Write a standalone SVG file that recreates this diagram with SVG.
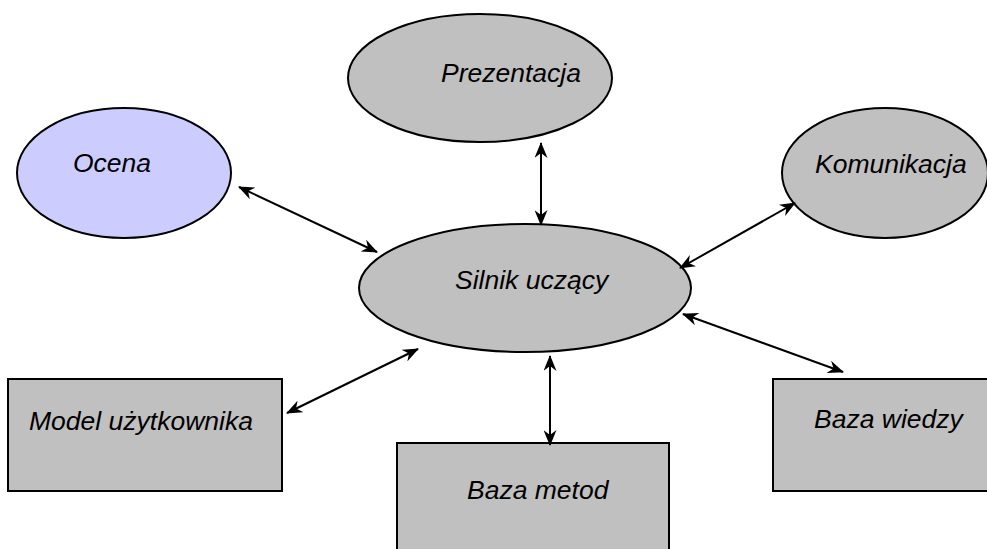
<svg xmlns="http://www.w3.org/2000/svg" width="987" height="549" viewBox="0 0 987 549">
<style>
.n{fill:#C0C0C0;stroke:#000;stroke-width:2}
.o{fill:#CCCCFF;stroke:#000;stroke-width:2}
.t{font-family:"Liberation Sans",Arial,sans-serif;font-style:italic;font-size:26.5px;fill:#000}
.c{stroke:#000;stroke-width:2;fill:none;marker-start:url(#ah);marker-end:url(#ah)}
</style>
<defs>
<marker id="ah" viewBox="0 0 16 13" refX="15" refY="6.5" markerWidth="16" markerHeight="13" markerUnits="userSpaceOnUse" orient="auto-start-reverse">
<path d="M0,0 L16,6.5 L0,13 L5,6.5 Z" fill="#000"/>
</marker>
</defs>
<rect width="987" height="549" fill="#fff"/>
<g id="prezentacja"><ellipse class="n" cx="480" cy="78" rx="132" ry="64"/><text class="t" x="441" y="82">Prezentacja</text></g>
<g id="ocena"><ellipse class="o" cx="124" cy="173" rx="107" ry="65"/><text class="t" x="73" y="172">Ocena</text></g>
<g id="komunikacja"><ellipse class="n" cx="885" cy="173" rx="103" ry="65"/><text class="t" x="815" y="173">Komunikacja</text></g>
<g id="silnik"><ellipse class="n" cx="525" cy="288" rx="166" ry="64"/><text class="t" x="455" y="289">Silnik uczący</text></g>
<g id="model"><rect class="n" x="8" y="379" width="274" height="112"/><text class="t" x="29" y="430">Model użytkownika</text></g>
<g id="metod"><rect class="n" x="397" y="443" width="272" height="120"/><text class="t" x="467" y="499">Baza metod</text></g>
<g id="wiedzy"><rect class="n" x="773" y="379" width="230" height="112"/><text class="t" x="814" y="428">Baza wiedzy</text></g>
<g id="connectors">
<line class="c" x1="239" y1="187" x2="377" y2="252"/>
<line class="c" x1="541" y1="143" x2="541" y2="225"/>
<line class="c" x1="795" y1="203" x2="680" y2="268"/>
<line class="c" x1="683" y1="314" x2="843" y2="372"/>
<line class="c" x1="287" y1="413" x2="418" y2="349"/>
<line class="c" x1="550" y1="356" x2="550" y2="445"/>
</g>
</svg>
